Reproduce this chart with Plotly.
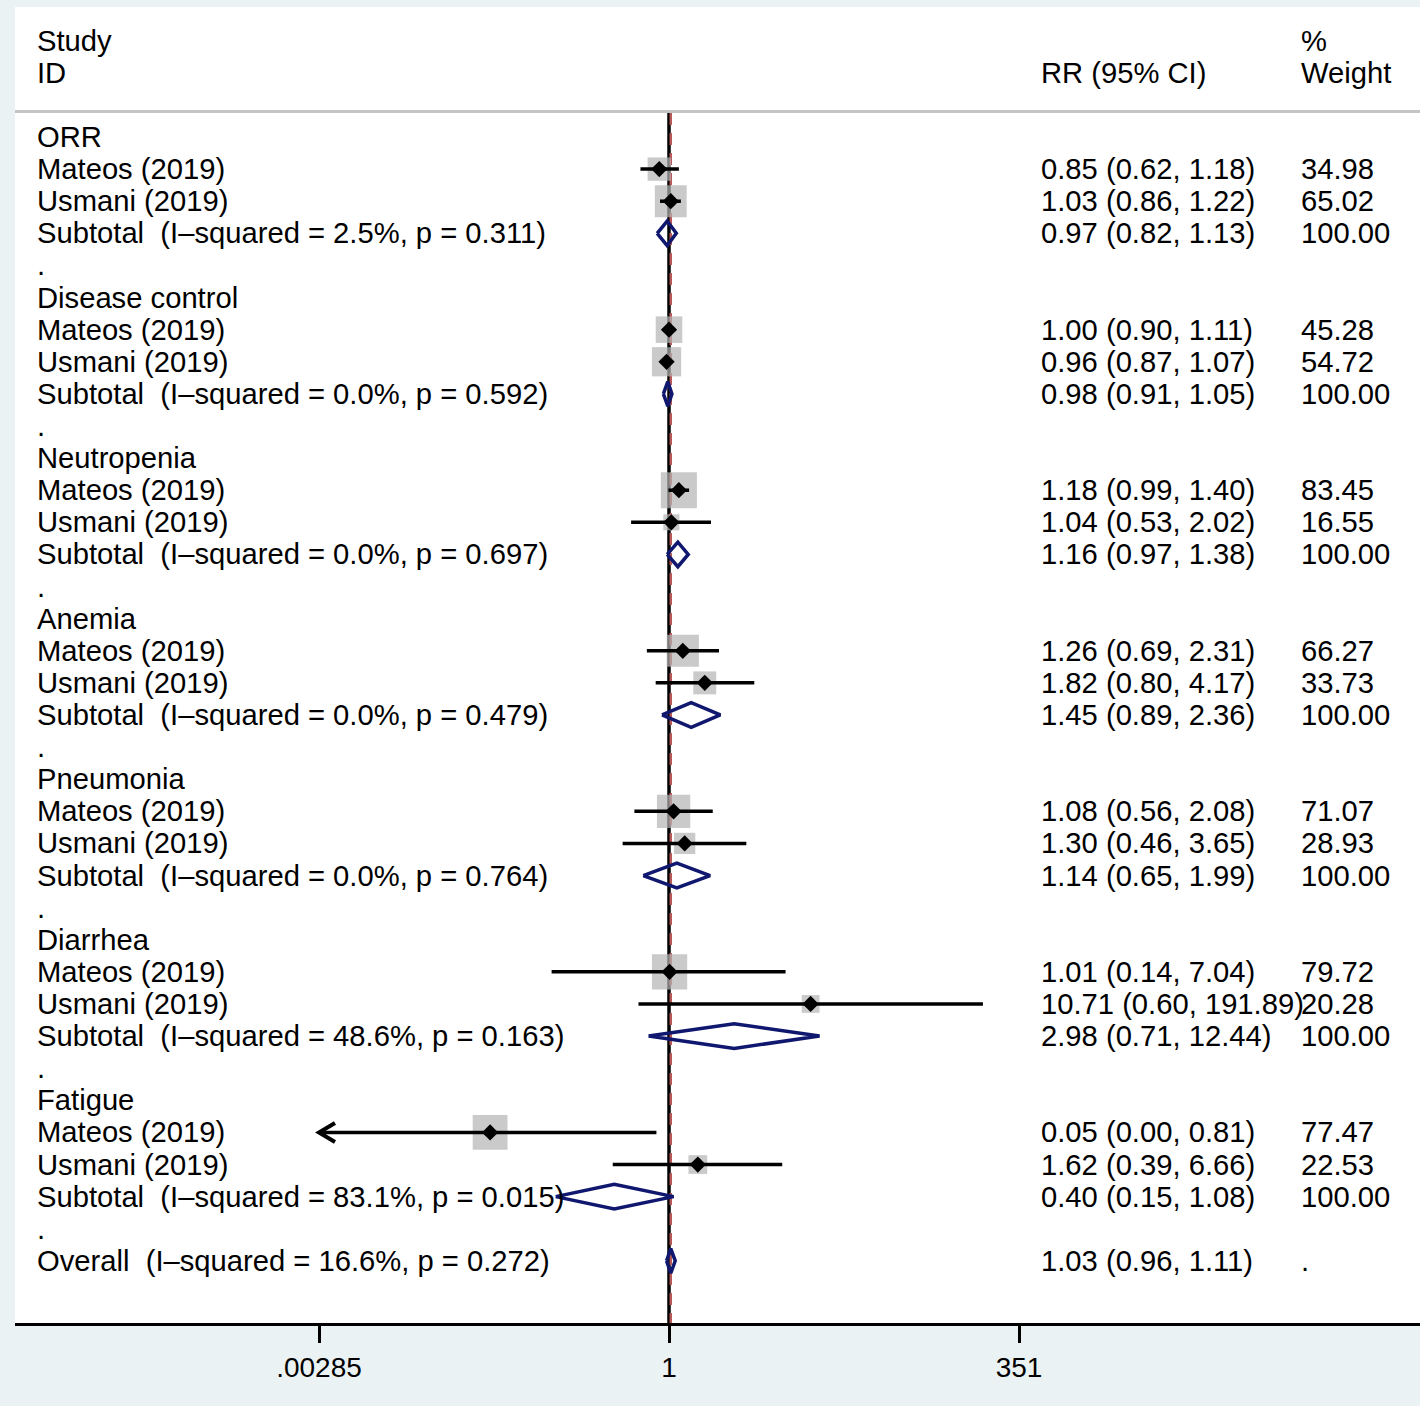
import math
import plotly.graph_objects as go

# ---------------- data ----------------
groups = ["ORR", "Disease control", "Neutropenia", "Anemia", "Pneumonia", "Diarrhea", "Fatigue"]
studies = ["Mateos (2019)", "Usmani (2019)"]

mateos_rr = [0.85, 1.00, 1.18, 1.26, 1.08, 1.01, 0.05]
mateos_lo = [0.62, 0.90, 0.99, 0.69, 0.56, 0.14, 0.0028]
mateos_hi = [1.18, 1.11, 1.40, 2.31, 2.08, 7.04, 0.81]
mateos_w = [34.98, 45.28, 83.45, 66.27, 71.07, 79.72, 77.47]

usmani_rr = [1.03, 0.96, 1.04, 1.82, 1.30, 10.71, 1.62]
usmani_lo = [0.86, 0.87, 0.53, 0.80, 0.46, 0.60, 0.39]
usmani_hi = [1.22, 1.07, 2.02, 4.17, 3.65, 191.89, 6.66]
usmani_w = [65.02, 54.72, 16.55, 33.73, 28.93, 20.28, 22.53]

sub_rr = [0.97, 0.98, 1.16, 1.45, 1.14, 2.98, 0.40]
sub_lo = [0.82, 0.91, 0.97, 0.89, 0.65, 0.71, 0.15]
sub_hi = [1.13, 1.05, 1.38, 2.36, 1.99, 12.44, 1.08]
sub_i2 = ["2.5", "0.0", "0.0", "0.0", "0.0", "48.6", "83.1"]
sub_p = ["0.311", "0.592", "0.697", "0.479", "0.764", "0.163", "0.015"]

overall_rr, overall_lo, overall_hi = 1.03, 0.96, 1.11
overall_i2, overall_p = "16.6", "0.272"

tick_vals = [1 / 351, 1, 351]
tick_text = [".00285", "1", "351"]

# ---------------- layout constants ----------------
W, H = 1420, 1406
ML, MR, MT, MB = 15, 0, 7, 83
PX_PER_DEC = 350 / math.log10(351)
X_NULL_PX = 669
x_range = [-(X_NULL_PX - ML) / PX_PER_DEC, (W - MR - X_NULL_PX) / PX_PER_DEC]
ROW_PX = 32.11
ROW1_PX = 137
y_top = 1 - (ROW1_PX - MT) / ROW_PX
y_bot = 1 + (H - MB - ROW1_PX) / ROW_PX
clip_lo = 1 / 351

FONT = "Liberation Sans, Arial, Helvetica, sans-serif"
FS = 29.2
NAVY = "#10176e"
BOXC = "#b3b3b3"
BG = "#eaf2f3"


def px_to_paper(px):
    return (px - ML) / (W - ML - MR)


def fmt_ci(r, lo, hi):
    return f"{r:.2f} ({lo:.2f}, {hi:.2f})"


# build rows
rows = []
r = 1
study_pts = []
sub_pts = []
for g in range(len(groups)):
    rows.append(dict(row=r, label=groups[g], ci="", w=""))
    r += 1
    for s, (rr, lo, hi, w) in enumerate([
        (mateos_rr[g], mateos_lo[g], mateos_hi[g], mateos_w[g]),
        (usmani_rr[g], usmani_lo[g], usmani_hi[g], usmani_w[g]),
    ]):
        rows.append(dict(row=r, label=studies[s], ci=fmt_ci(rr, lo, hi), w=f"{w:.2f}"))
        study_pts.append(dict(row=r, rr=rr, lo=lo, hi=hi, w=w))
        r += 1
    rows.append(dict(row=r, label=f"Subtotal\u00a0 (I\u2013squared = {sub_i2[g]}%, p = {sub_p[g]})",
                     ci=fmt_ci(sub_rr[g], sub_lo[g], sub_hi[g]), w="100.00"))
    sub_pts.append(dict(row=r, rr=sub_rr[g], lo=sub_lo[g], hi=sub_hi[g]))
    r += 1
    rows.append(dict(row=r, label=".", ci="", w=""))
    r += 1
overall_row = r
rows.append(dict(row=r, label=f"Overall\u00a0 (I\u2013squared = {overall_i2}%, p = {overall_p})",
                 ci=fmt_ci(overall_rr, overall_lo, overall_hi), w="."))
sub_pts.append(dict(row=r, rr=overall_rr, lo=overall_lo, hi=overall_hi))

fig = go.Figure()

line_top = 1 - (ROW1_PX - 113) / ROW_PX

# null line
fig.add_trace(go.Scatter(x=[1, 1], y=[line_top, y_bot], mode="lines",
                         line=dict(color="black", width=3.5), hoverinfo="skip", cliponaxis=False))
# overall dashed line
fig.add_trace(go.Scatter(x=[overall_rr, overall_rr], y=[line_top, y_bot], mode="lines",
                         line=dict(color="#b95a5a", width=2.5, dash="12px,8px"), hoverinfo="skip"))

# boxes
fig.add_trace(go.Scatter(
    x=[p["rr"] for p in study_pts], y=[p["row"] for p in study_pts], mode="markers",
    marker=dict(symbol="square", color=BOXC, size=[3.95 * math.sqrt(p["w"]) for p in study_pts],
                line=dict(width=0)), hoverinfo="skip"))

# CI lines
cx, cy = [], []
arrows = []
for p in study_pts:
    lo = p["lo"]
    if lo < clip_lo:
        lo = clip_lo
        arrows.append(p["row"])
    cx += [lo, p["hi"], None]
    cy += [p["row"], p["row"], None]
fig.add_trace(go.Scatter(x=cx, y=cy, mode="lines", line=dict(color="black", width=3.5),
                         hoverinfo="skip"))

# arrows (open chevrons) for truncated lower CI
ax, ay = [], []
ah_fac = 10 ** (16 / PX_PER_DEC)
ah_h = 9.5 / ROW_PX
for rw in arrows:
    ax += [clip_lo * ah_fac, clip_lo, clip_lo * ah_fac, None]
    ay += [rw - ah_h, rw, rw + ah_h, None]
fig.add_trace(go.Scatter(x=ax, y=ay, mode="lines", line=dict(color="black", width=4),
                         hoverinfo="skip"))

# point estimates
fig.add_trace(go.Scatter(
    x=[p["rr"] for p in study_pts], y=[p["row"] for p in study_pts], mode="markers",
    marker=dict(symbol="diamond", color="black", size=12.5, line=dict(width=0)), hoverinfo="skip"))

# subtotal / overall diamonds
dh = 12.3 / ROW_PX
for p in sub_pts:
    fig.add_trace(go.Scatter(
        x=[p["lo"], p["rr"], p["hi"], p["rr"], p["lo"]],
        y=[p["row"], p["row"] - dh, p["row"], p["row"] + dh, p["row"]],
        mode="lines", line=dict(color=NAVY, width=3.5), hoverinfo="skip"))

annotations = []


def add_text(xpx, row, text):
    annotations.append(dict(x=px_to_paper(xpx), xref="paper", y=row, yref="y", text=text,
                            showarrow=False, xanchor="left", yanchor="middle",
                            font=dict(family=FONT, size=FS, color="black")))


header_rows = [-2, -1]
add_text(35, header_rows[0], "Study")
add_text(35, header_rows[1], "ID")
add_text(1039, header_rows[1], "RR (95% CI)")
add_text(1299, header_rows[0], "%")
add_text(1299, header_rows[1], "Weight")

for rw in rows:
    add_text(35, rw["row"], rw["label"])
    if rw["ci"]:
        add_text(1039, rw["row"], rw["ci"])
    if rw["w"]:
        add_text(1299, rw["row"], rw["w"])

sep_row = 1 - (ROW1_PX - 111.5) / ROW_PX
shapes = [dict(type="line", xref="paper", x0=0, x1=1, yref="y", y0=sep_row, y1=sep_row,
               line=dict(color="#c4c4c4", width=3))]

fig.update_layout(
    width=W, height=H,
    margin=dict(l=ML, r=MR, t=MT, b=MB, pad=0),
    paper_bgcolor=BG, plot_bgcolor="white",
    showlegend=False,
    annotations=annotations, shapes=shapes,
    xaxis=dict(type="log", range=x_range, showgrid=False, zeroline=False,
               showline=True, linecolor="black", linewidth=3,
               tickmode="array", tickvals=tick_vals, ticktext=tick_text,
               ticks="outside", ticklen=17, tickwidth=2.5, tickcolor="black",
               tickfont=dict(family=FONT, size=28, color="black")),
    yaxis=dict(range=[y_bot, y_top], showgrid=False, zeroline=False, showline=False,
               showticklabels=False, ticks=""),
)

fig.write_html(
    "out.html",
    config={"displayModeBar": False},
    post_script=(
        "document.body.style.margin='0';"
        "document.body.style.padding='0';"
        f"document.body.style.background='{BG}';"
        "document.documentElement.style.overflow='hidden';"
    ),
)
